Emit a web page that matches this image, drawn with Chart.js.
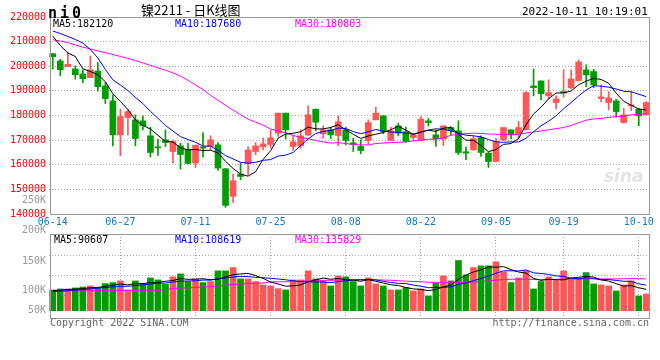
<!DOCTYPE html>
<html><head><meta charset="utf-8">
<script src="https://cdn.jsdelivr.net/npm/chart.js@4.4.1/dist/chart.umd.min.js"></script>
<style>
html,body{margin:0;padding:0;background:#fff;}
body{width:660px;height:360px;overflow:hidden;position:relative;font-family:'DejaVu Sans Mono',monospace;}
canvas{position:absolute;left:0;}
.t{position:absolute;white-space:nowrap;font-size:10px;line-height:10px;}
</style></head><body>
<canvas id="pc" width="660" height="232" style="top:0"></canvas>
<canvas id="vc" width="660" height="150" style="top:190px"></canvas>
<div class="t" style="left:48px;top:6px;font-size:15px;line-height:15px;font-weight:bold;letter-spacing:3px;">ni0</div>
<div class="t" style="left:141px;top:2px;font-size:13px;line-height:15px;font-family:'Noto Sans CJK SC';">镍2211 - 日K线图</div>
<div class="t" id="stamp" style="left:522px;top:6px;font-size:11px;line-height:11px;">2022-10-11 10:19:01</div>
<div class="t" id="pm5" style="left:53px;top:19px;color:#000"></div>
<div class="t" id="pm10" style="left:175px;top:19px;color:#0000ff"></div>
<div class="t" id="pm30" style="left:295px;top:19px;color:#ff00ff"></div>
<div class="t" id="vm5" style="left:54px;top:235px;color:#000"></div>
<div class="t" id="vm10" style="left:175px;top:235px;color:#0000ff"></div>
<div class="t" id="vm30" style="left:295px;top:235px;color:#ff00ff"></div>
<div class="t" style="left:50px;top:318px;color:#666">Copyright 2022 SINA.COM</div>
<div class="t" style="right:11px;top:318px;color:#666">http://finance.sina.com.cn</div>
<div class="t" style="left:604px;top:168px;font-size:17px;line-height:17px;font-family:'DejaVu Sans';font-weight:bold;font-style:italic;color:#e4e4e4;">sina</div>
<script>
const dates = ['06-14','06-15','06-16','06-17','06-20','06-21','06-22','06-23','06-24','06-27','06-28','06-29','06-30','07-01','07-04','07-05','07-06','07-07','07-08','07-11','07-12','07-13','07-14','07-15','07-18','07-19','07-20','07-21','07-22','07-25','07-26','07-27','07-28','07-29','08-01','08-02','08-03','08-04','08-05','08-08','08-09','08-10','08-11','08-12','08-15','08-16','08-17','08-18','08-19','08-22','08-23','08-24','08-25','08-26','08-29','08-30','08-31','09-01','09-02','09-05','09-06','09-07','09-08','09-09','09-13','09-14','09-15','09-16','09-19','09-20','09-21','09-22','09-23','09-26','09-27','09-28','09-29','09-30','10-10','10-11'];
const tickDates = ['06-14','06-27','07-11','07-25','08-08','08-22','09-05','09-19','10-10'];

const opens  = [205100,202150,199840,198900,196870,195380,198090,192010,185920,172150,179160,178230,177820,171740,167280,170120,165380,167690,166340,160680,167280,167410,168090,158360,147140,156220,160500,165380,167280,168220,172840,180950,167410,167690,172030,182570,172550,174180,171870,174180,168890,167410,169840,178230,179860,169840,175800,173360,171050,169840,177820,172150,170410,175110,173770,165260,166070,171050,164730,161330,170120,174180,172550,174180,192010,194040,188080,185240,189050,191210,194160,198540,197850,186860,185240,185930,177140,183910,182570,180260];
const highs  = [205200,202840,205800,200120,198540,204170,201460,193360,188350,182570,182570,180260,179860,175270,170410,174180,170120,168780,168780,167970,173080,171740,169030,158500,156220,160680,167300,169030,170810,174180,181000,181000,171740,174180,183910,182600,175800,175270,179860,175270,170810,170120,178230,183380,179900,175270,176890,175270,172840,179570,178920,174180,175800,175510,177820,167160,171740,171740,165000,170810,175100,174200,177540,189700,198900,194100,194490,187960,198540,198540,202560,200530,198780,192420,189700,186620,182970,189500,182970,185650];
const lows   = [198900,196190,199840,194730,193350,195380,189860,184830,167690,163640,172150,167690,174180,163110,163760,167410,160680,158240,160510,158890,163110,166070,157680,142680,144700,153900,156000,164040,166070,166760,171460,170410,165790,166760,172000,173770,170810,170650,167690,168090,165380,164450,168500,178200,172550,169800,171740,169030,169840,169800,175800,167410,167690,172150,164040,162020,165790,163350,158890,161300,169840,170530,170410,174000,187960,186340,186740,182690,187430,190800,194100,191730,191320,185530,182290,179320,176890,182000,175800,180200];
const closes = [203900,198620,200810,196590,194970,198540,191720,186860,172150,179570,181590,170650,175800,164970,166880,169030,169430,164160,160510,167970,166760,170120,158650,143490,153500,155240,166000,167690,168500,170930,180950,174180,169310,171740,180260,177300,174180,172150,177420,169840,168220,165790,177140,180950,173490,173770,172840,169430,172150,178510,177140,170530,175800,173770,164970,164730,170530,164970,161330,169430,175110,172150,175110,189300,191320,188900,189300,186740,189860,194850,201740,196510,192420,187550,187150,181590,180260,184310,179860,185240];
const volumes = [88400,92700,92700,97000,101200,105600,99800,115500,119800,126900,88500,126900,115500,139800,131200,112600,144000,156900,124100,135500,119800,124100,169700,169700,184000,135500,135500,124100,109800,105600,94100,88500,131200,131200,169700,135500,128300,105600,148300,144000,124100,105600,139800,114100,105600,88500,88500,98400,84100,92700,62700,116900,148300,126900,214000,152600,184000,191100,191100,208200,165400,119800,139800,169700,92700,124100,144000,128300,169700,131200,139800,162500,114100,109800,105600,84100,109800,126900,62700,71300];

const ma5Head  = [212240,208430,205390,203970];
const ma10Head = [214310,213300,212080,210860,209450,206810,203370,198700,194450];
const ma30Head = [210740,210260,209610,208680,207780,207010,206240,205510,204780,204010,203240,202350,201340,200370,199390,198380,197280,196030,194320,192420,190550,188240,186170,184150,182200,180380,178550,177300,176120];
const vma5Head  = [84900,87800,90500,92000];
const vma10Head = [81900,83600,84900,87800,89900,93000,96300,98600,101300];
const vma30Head = [84200,84200,84500,84800,84900,85000,85300,85600,85800,85900,86200,86300,86600,86800,87000,89900,95300,96600,97900,99200,100900,102300,105200,109500,111400,113600,115900,117200,117700];

const priceMaLegend = [182120,187680,180803];
const volMaLegend   = [90607,108619,135829];
const priceTicks = [140000,150000,160000,170000,180000,190000,200000,210000,220000];
const volLabels = ['250K','200K','150K','100K','50K'];

function movingAvg(vals, n, head){
  return vals.map((v,i)=>{
    if(i < n-1) return head[i];
    let s=0; for(let k=i-n+1;k<=i;k++) s+=vals[k];
    return Math.round(s/n);
  });
}
const ma5 = movingAvg(closes,5,ma5Head), ma10 = movingAvg(closes,10,ma10Head), ma30 = movingAvg(closes,30,ma30Head);
const vma5 = movingAvg(volumes,5,vma5Head), vma10 = movingAvg(volumes,10,vma10Head), vma30 = movingAvg(volumes,30,vma30Head);

document.getElementById('pm5').textContent = 'MA5:' + priceMaLegend[0];
document.getElementById('pm10').textContent = 'MA10:' + priceMaLegend[1];
document.getElementById('pm30').textContent = 'MA30:' + priceMaLegend[2];
document.getElementById('vm5').textContent = 'MA5:' + volMaLegend[0];
document.getElementById('vm10').textContent = 'MA10:' + volMaLegend[1];
document.getElementById('vm30').textContent = 'MA30:' + volMaLegend[2];

const UP = '#ff5757', DOWN = '#009c00';
const colors = closes.map((c,i)=> c >= opens[i] ? UP : DOWN);
const bodies = opens.map((o,i)=>[Math.min(o,closes[i]), Math.max(o,closes[i])]);
const wicks = lows.map((l,i)=>[l, highs[i]]);

Chart.defaults.font.family = "'DejaVu Sans Mono', monospace";
Chart.defaults.font.size = 10;

const GRID = '#a8a8a8';
const boxPlugin = {id:'box', afterDraw(chart){
  const {ctx, chartArea:a} = chart;
  ctx.save(); ctx.strokeStyle = '#999'; ctx.lineWidth = 1; ctx.setLineDash([]);
  const l = Math.floor(a.left)+1.5, t = Math.floor(a.top)+0.5;
  ctx.strokeRect(l, t, Math.floor(a.right)-Math.floor(a.left)-2, Math.floor(a.bottom)-Math.floor(a.top));
  ctx.restore();
}};
const xGridColor = c => (c.index > 0 && tickDates.includes(dates[c.index])) ? GRID : 'rgba(0,0,0,0)';
const lineDs = (data, color) => ({type:'line', data, borderColor:color, borderWidth:1, pointRadius:0, tension:0, fill:false, order:0});

new Chart(document.getElementById('pc'), {
  type:'bar',
  data:{labels:dates, datasets:[
    lineDs(ma5,'#000000'), lineDs(ma10,'#0000ff'), lineDs(ma30,'#ff00ff'),
    {data:bodies, backgroundColor:colors, barThickness:6, grouped:false, minBarLength:1, order:1},
    {data:wicks, backgroundColor:colors, barThickness:1, grouped:false, order:2}
  ]},
  options:{
    responsive:false, animation:false, events:[],
    plugins:{legend:{display:false}, tooltip:{enabled:false}},
    layout:{padding:{top:17,right:10,left:0,bottom:0}},
    scales:{
      x:{
        grid:{offset:false, drawTicks:false, color:xGridColor},
        border:{display:false, dash:[1,2]},
        ticks:{autoSkip:false, maxRotation:0, minRotation:0, padding:2, color:'#1a76c6',
          callback:(v,i)=> tickDates.includes(dates[i]) ? dates[i] : null},
        afterFit:s=>{s.height=18;}
      },
      y:{
        min:priceTicks[0], max:priceTicks[priceTicks.length-1],
        afterBuildTicks:s=>{s.ticks = priceTicks.map(value=>({value}));},
        ticks:{color:'#ff0000', padding:3, callback:v=>String(v)},
        grid:{drawTicks:false, color:c=> (c.index===0 || c.index===priceTicks.length-1) ? 'rgba(0,0,0,0)' : GRID},
        border:{display:false, dash:[1,2]},
        afterFit:s=>{s.width=49;}
      }
    }
  },
  plugins:[boxPlugin]
});

new Chart(document.getElementById('vc'), {
  type:'bar',
  data:{labels:dates, datasets:[
    lineDs(vma5,'#000000'), lineDs(vma10,'#0000ff'), lineDs(vma30,'#ff00ff'),
    {data:volumes, backgroundColor:colors, barThickness:6, grouped:false, order:1}
  ].map(d=> Object.assign(d,{yAxisID:'yv'}))},
  options:{
    responsive:false, animation:false, events:[],
    plugins:{legend:{display:false}, tooltip:{enabled:false}},
    layout:{padding:{top:44,right:10,left:0,bottom:22}},
    scales:{
      x:{
        grid:{offset:false, drawTicks:false, color:xGridColor},
        border:{display:false, dash:[1,2]},
        ticks:{display:false, autoSkip:false, maxRotation:0},
        afterFit:s=>{s.height=0;}
      },
      yv:{type:'linear', display:false, min:-31200, max:327000},
      yg:{type:'linear', position:'left', reverse:true, min:234, max:318,
        afterBuildTicks:s=>{s.ticks=[255,275,295].map(value=>({value}));},
        ticks:{display:false}, grid:{drawTicks:false, color:GRID},
        border:{display:false, dash:[1,2]}, afterFit:s=>{s.width=0;}
      },
      yl:{type:'linear', position:'left', reverse:true, min:234, max:318,
        afterBuildTicks:s=>{s.ticks=[200,230.7,261.7,290.7,310.7].map(value=>({value}));},
        ticks:{color:'#999999', padding:3, callback:(v,i)=>volLabels[i]},
        grid:{display:false, drawTicks:false}, border:{display:false},
        afterFit:s=>{s.width=49;}
      }
    }
  },
  plugins:[boxPlugin]
});
</script>
</body></html>
